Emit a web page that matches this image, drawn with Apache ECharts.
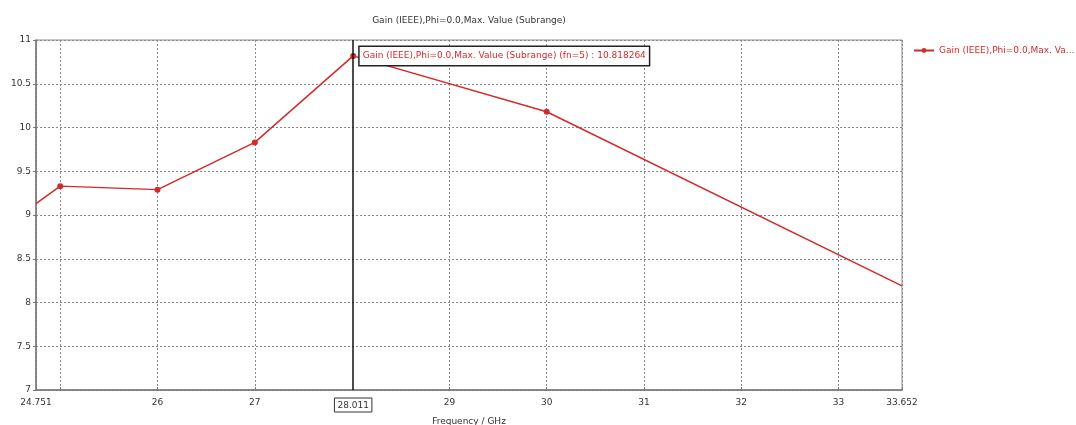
<!DOCTYPE html>
<html>
<head>
<meta charset="utf-8">
<script src="https://cdn.jsdelivr.net/npm/echarts@6/dist/echarts.min.js"></script>
<style>
  html, body { margin: 0; padding: 0; background: #fff; }
  #main { width: 1076px; height: 425px; }
</style>
</head>
<body>
<div id="main"></div>
<script>
// 频率 (GHz) 与增益 (dBi)
var freqs = [24.751, 25, 26, 27, 28.011, 30, 33.652];
var gains = [9.13, 9.33, 9.29, 9.83, 10.818264, 10.18, 8.19];
var markerFreq = 28.011;
var markerGain = 10.818264;
var xTicks = [24.751, 25, 26, 27, 29, 30, 31, 32, 33, 33.652];
var xLabels = [24.751, 26, 27, 28.011, 29, 30, 31, 32, 33, 33.652];
var seriesName = 'Gain (IEEE),Phi=0.0,Max. Value (Subrange)';

var red = '#d42a2a';
var fontFam = 'DejaVu Sans, sans-serif';

var myChart = echarts.init(document.getElementById('main'));

var points = freqs.map(function (f, i) {
  var p = { value: [f, gains[i]] };
  // 两端点不画标记
  if (i === 0 || i === freqs.length - 1) p.symbol = 'none';
  return p;
});

myChart.setOption({
  animation: false,
  backgroundColor: '#fff',
  title: {
    text: seriesName,
    left: 464,
    textAlign: 'center',
    top: 11,
    textStyle: { fontSize: 9, fontWeight: 'normal', color: '#333', fontFamily: fontFam }
  },
  legend: {
    data: [seriesName],
    left: 908,
    top: 41,
    itemWidth: 20,
    itemHeight: 6,
    itemGap: 3,
    formatter: function () { return 'Gain (IEEE),Phi=0.0,Max. Va...'; },
    textStyle: { fontSize: 9, color: red, fontFamily: fontFam }
  },
  grid: {
    left: 36, right: 174, top: 40, bottom: 35,
    outerBoundsMode: 'none',
    containLabel: false,
    show: true,
    borderColor: '#8a8a8a',
    borderWidth: 1
  },
  xAxis: {
    type: 'value',
    min: 24.751,
    max: 33.652,
    name: 'Frequency / GHz',
    nameLocation: 'middle',
    nameGap: 22,
    nameTextStyle: { fontSize: 9, color: '#333', fontFamily: fontFam },
    axisLine: { lineStyle: { color: '#777', width: 1.5 } },
    axisTick: { show: true, length: 3, inside: true, customValues: xTicks, lineStyle: { color: '#777' } },
    axisLabel: {
      customValues: xLabels,
      fontSize: 9,
      color: '#333',
      fontFamily: fontFam,
      margin: 8,
      formatter: function (v) {
        if (Math.abs(v - markerFreq) < 1e-6) return '{box|28.011}';
        return String(v);
      },
      rich: {
        box: { fontSize: 9, color: '#333', fontFamily: fontFam, borderColor: '#333', borderWidth: 1, padding: [3, 3, 2, 3] }
      }
    },
    splitLine: { show: true, lineStyle: { color: '#888', type: [2, 2], width: 1 } }
  },
  yAxis: {
    type: 'value',
    min: 7,
    max: 11,
    interval: 0.5,
    axisLine: { show: true, lineStyle: { color: '#777', width: 1.5 } },
    axisTick: { show: true, length: 3, lineStyle: { color: '#777' } },
    axisLabel: { fontSize: 9, color: '#333', fontFamily: fontFam, margin: 5 },
    splitLine: { show: true, lineStyle: { color: '#888', type: [2, 2], width: 1 } }
  },
  series: [{
    name: seriesName,
    type: 'line',
    data: points,
    symbol: 'circle',
    symbolSize: 6,
    itemStyle: { color: red },
    lineStyle: { color: red, width: 1.5 },
    markLine: {
      silent: true,
      symbol: 'none',
      label: { show: false },
      lineStyle: { color: '#111', type: 'solid', width: 1.5 },
      data: [{ xAxis: markerFreq }]
    },
    markPoint: {
      silent: true,
      symbol: 'circle',
      symbolSize: 1,
      itemStyle: { color: red },
      data: [{ coord: [markerFreq, markerGain] }],
      label: {
        show: true,
        position: 'right',
        distance: 6,
        formatter: function () { return seriesName + ' (fn=5) : ' + markerGain.toFixed(6); },
        fontSize: 9,
        color: red,
        fontFamily: fontFam,
        backgroundColor: '#fff',
        borderColor: '#222',
        borderWidth: 1.5,
        padding: [5, 3, 4, 3]
      }
    }
  }]
});
</script>
</body>
</html>
